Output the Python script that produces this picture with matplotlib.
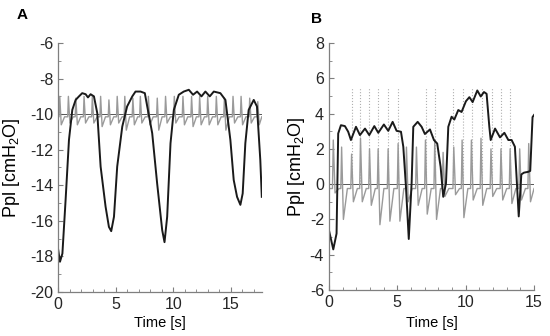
import numpy as np
import matplotlib
matplotlib.use('Agg')
import matplotlib.pyplot as plt
from matplotlib.ticker import MultipleLocator

plt.rcParams['font.family'] = ['Liberation Sans', 'DejaVu Sans']
plt.rcParams['axes.unicode_minus'] = False
#-------------------------------------------------------------------------------
# DATA
#-------------------------------------------------------------------------------
# panel A : pleural pressure (black)
a_t = [0, 0.17, 0.38, 0.66, 0.95, 1.24, 1.53, 1.82, 2.1, 2.4, 2.6, 2.83, 3.12, 3.41, 3.7,
       4.13, 4.42, 4.62, 4.86, 5.14, 5.58, 6.0, 6.45, 6.73, 7.17, 7.54, 7.75, 8.18, 8.61,
       9.05, 9.25, 9.48, 9.77, 10.06, 10.49, 10.92, 11.36, 11.73, 12.08, 12.46, 12.8,
       13.18, 13.53, 14.1, 14.54, 14.97, 15.26, 15.55, 15.84, 16.04, 16.27, 16.56, 17.0,
       17.28, 17.57, 17.7]
a_p = [-17.56, -18.3, -17.84, -14.8, -11.45, -9.76, -9.2, -9.0, -8.82, -8.88, -9.06, -8.88,
       -9.0, -9.95, -12.95, -15.2, -16.34, -16.58, -15.77, -12.95, -10.7, -9.57, -9.0, -8.73,
       -8.73, -8.82, -9.57, -11.07, -13.9, -16.53, -17.2, -15.77, -11.64, -9.76, -8.91, -8.73,
       -8.63, -8.91, -8.73, -9.0, -8.73, -9.0, -8.73, -8.82, -9.2, -11.45, -13.7, -14.65,
       -15.1, -14.46, -11.64, -9.76, -9.2, -9.57, -12.58, -14.65]
# panel A : cardiac component (grey), one entry per beat
a_beat = [0.15, 0.9, 1.55, 2.26, 2.98, 3.7, 4.42, 5.14, 5.8, 6.5, 7.15, 7.85, 8.62, 9.34,
          10.1, 10.85, 11.6, 12.3, 13.0, 13.75, 14.45, 15.2, 15.9, 16.65, 17.35]
a_peak = [-9.0, -9.0, -9.1, -9.0, -9.0, -9.0, -9.2, -9.0, -9.0, -9.1, -9.0, -9.0, -9.1, -9.0,
          -9.0, -9.0, -9.0, -9.0, -9.0, -9.0, -9.1, -9.0, -9.0, -9.1, -9.3]
a_trough = [-10.6, -10.5, -10.6, -10.5, -10.5, -10.7, -10.6, -10.5, -10.9, -10.6, -10.5,
            -10.6, -10.9, -10.5, -10.5, -10.6, -10.7, -10.6, -10.6, -10.6, -10.9, -10.5,
            -10.6, -10.5, -10.6]
a_base = -10.15

# panel B : pleural pressure (black)
b_t = [0, 0.32, 0.56, 0.68, 0.88, 1.17, 1.41, 1.61, 1.98, 2.27, 2.64, 2.95, 3.32, 3.61,
       4.02, 4.34, 4.66, 4.95, 5.27, 5.44, 5.63, 5.84, 6.05, 6.17, 6.49, 6.78, 7.02, 7.39,
       7.68, 7.92, 8.17, 8.36, 8.56, 8.73, 8.97, 9.17, 9.46, 9.7, 10.02, 10.27, 10.51,
       10.85, 11.1, 11.34, 11.53, 11.73, 11.83, 12.15, 12.51, 12.83, 13.12, 13.36, 13.6,
       13.88, 14.07, 14.26, 14.58, 14.72, 14.89, 15.0]
b_p = [-2.6, -3.7, -2.8, 2.87, 3.34, 3.29, 2.97, 2.5, 3.25, 2.78, 3.15, 2.78, 3.29, 2.91,
       3.38, 3.02, 3.53, 3.02, 2.97, 2.12, -0.1, -3.11, 0.1, 3.25, 3.53, 3.25, 2.84, 3.1,
       2.5, 2.3, 0.97, -0.72, 0.04, 3.25, 3.82, 3.66, 4.2, 4.09, 4.7, 4.93, 4.65, 5.31,
       4.97, 5.22, 5.12, 3.25, 2.5, 3.15, 2.65, 2.91, 2.5, 2.5, 2.12, -1.83, 0.55, 0.65,
       0.7, 0.75, 3.8, 3.92]
# panel B : cardiac component (grey), one entry per beat
b_beat = [0.32, 0.93, 1.66, 2.31, 2.97, 3.6, 4.33, 5.06, 5.67, 6.4, 7.06, 7.74, 8.35,
          9.13, 9.74, 10.42, 11.12, 11.85, 12.58, 13.25, 13.95, 14.61]
b_peak = [2.5, 2.1, 1.7, 2.6, 2.0, 2.0, 2.0, 2.3, 2.1, 2.1, 2.5, 2.5, 1.8, 2.1, 2.5, 2.5,
          2.6, 2.0, 2.0, 2.0, 2.0, 2.3]
b_trough = [-0.5, -2.0, -1.0, -1.0, -1.2, -2.3, -2.1, -2.1, -1.0, -1.2, -1.7, -2.0, -0.7,
            -0.6, -1.9, -0.9, -1.2, -0.7, -0.9, -1.1, -0.9, -1.0]
b_base = -0.25
# inspiratory markers (dotted)
b_marks = [1.66, 2.30, 2.96, 3.61, 4.34, 5.07, 7.07, 7.75, 9.1, 9.78, 10.46, 11.17, 11.9,
           12.58, 13.24]
#-------------------------------------------------------------------------------
def cardiac(beats, peaks, troughs, base, tend):
    xs, ys = [0.0], [base]
    for t, pk, tr in zip(beats, peaks, troughs):
        xs += [t - 0.06, t, t + 0.13, t + 0.42]
        ys += [base, pk, tr, base]
    xs.append(tend)
    ys.append(ys[-1])
    xs = np.array(xs)
    ys = np.array(ys)
    keep = (xs >= 0) & (xs <= tend)
    return xs[keep], ys[keep]

def style(ax, ylab_x, xlab_y):
    for s in ['top', 'right']:
        ax.spines[s].set_visible(False)
    for s in ['left', 'bottom']:
        ax.spines[s].set_color('#7f7f7f')
        ax.spines[s].set_linewidth(0.9)
    ax.tick_params(which='both', direction='in', colors='#7f7f7f', labelcolor='#262626',
                   labelsize=11.5)
    ax.tick_params(which='major', length=3.5)
    ax.tick_params(which='minor', length=2)
    ax.xaxis.set_major_locator(MultipleLocator(5))
    ax.xaxis.set_minor_locator(MultipleLocator(1))
    ax.yaxis.set_major_locator(MultipleLocator(2))
    ax.yaxis.set_minor_locator(MultipleLocator(1))
    ax.set_xlabel('Time [s]', fontsize=10.5)
    ax.set_ylabel(r'Ppl [cmH$_\mathregular{2}$O]', fontsize=13)
    ax.yaxis.set_label_coords(ylab_x, 0.5)
    ax.xaxis.set_label_coords(0.5, xlab_y)

fig = plt.figure(figsize=(5.5, 3.36), dpi=100)

# A
axA = fig.add_axes([0.1055, 0.131, 0.3705, 0.741])
gx, gy = cardiac(a_beat, a_peak, a_trough, a_base, 17.7)
axA.axhline(-10, color='#555555', lw=0.7)
axA.plot(gx, gy, color='#9a9a9a', lw=1.0)
axA.plot(a_t, a_p, color='#1a1a1a', lw=1.4)
axA.set_xlim(0, 17.7)
axA.set_ylim(-20, -6)
style(axA, -0.176, -0.095)
fig.text(0.031, 0.975, 'A', fontsize=11, fontweight='bold', va='top')

# B
axB = fig.add_axes([0.598, 0.137, 0.373, 0.735])
gx, gy = cardiac(b_beat, b_peak, b_trough, b_base, 15.0)
axB.vlines(b_marks, 0, 5.5, colors='#b0b0b0', linestyles=':', lw=0.8)
axB.axhline(0, color='#555555', lw=0.7)
axB.plot(gx, gy, color='#9a9a9a', lw=1.0)
axB.plot(b_t, b_p, color='#1a1a1a', lw=1.4)
axB.set_xlim(0, 15)
axB.set_ylim(-6, 8)
style(axB, -0.107, -0.105)
fig.text(0.565, 0.965, 'B', fontsize=11, fontweight='bold', va='top')

plt.savefig('out.png', dpi=100)
